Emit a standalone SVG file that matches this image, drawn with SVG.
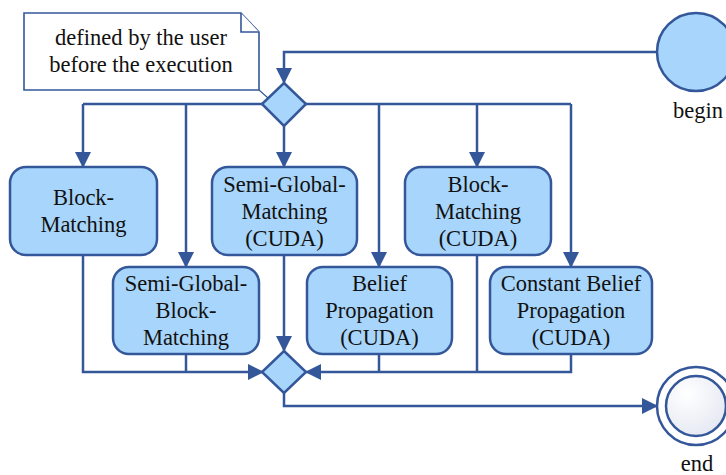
<svg xmlns="http://www.w3.org/2000/svg" width="726" height="475" viewBox="0 0 726 475">
  <style>
    .box { fill: #a8d5fb; stroke: #34579a; stroke-width: 2.5; }
    .line { fill: none; stroke: #34579a; stroke-width: 2.5; }
    .note { fill: #ffffff; stroke: #34579a; stroke-width: 1.6; }
    text { font-family: 'Liberation Serif', 'Times New Roman', serif; font-size: 22.5px; fill: #111111; text-anchor: middle; }
  </style>
  <defs>
    <marker id="arrow" viewBox="0 0 16 16" refX="15" refY="8" markerWidth="16" markerHeight="16" markerUnits="userSpaceOnUse" orient="auto">
      <path d="M0,0 L16,8 L0,16 Z" fill="#34579a"/>
    </marker>
    <radialGradient id="endFill" cx="0.35" cy="0.3" r="0.8">
      <stop offset="0" stop-color="#ffffff"/>
      <stop offset="1" stop-color="#e3e7f1"/>
    </radialGradient>
  </defs>

  <!-- connectors -->
  <g id="connectors">
    <!-- begin to split -->
    <path class="line" d="M657,52 H284 V83" marker-end="url(#arrow)"/>
    <!-- split fan-out bar -->
    <path class="line" d="M83,104 H571"/>
    <path class="line" d="M83,104 V167" marker-end="url(#arrow)"/>
    <path class="line" d="M186,104 V267" marker-end="url(#arrow)"/>
    <path class="line" d="M284,126 V167" marker-end="url(#arrow)"/>
    <path class="line" d="M379,104 V267" marker-end="url(#arrow)"/>
    <path class="line" d="M477,104 V167" marker-end="url(#arrow)"/>
    <path class="line" d="M571,104 V267" marker-end="url(#arrow)"/>
    <!-- merge -->
    <path class="line" d="M83,255 V372 H263" marker-end="url(#arrow)"/>
    <path class="line" d="M186,354 V372"/>
    <path class="line" d="M284,255 V351" marker-end="url(#arrow)"/>
    <path class="line" d="M571,354 V372 H306" marker-end="url(#arrow)"/>
    <path class="line" d="M379,354 V372"/>
    <path class="line" d="M477,255 V372"/>
    <!-- merge to end -->
    <path class="line" d="M284,393 V406 H657" marker-end="url(#arrow)"/>
    <!-- note anchor -->
    <path d="M259,90 L268,98" fill="none" stroke="#34579a" stroke-width="1.2"/>
  </g>

  <g id="note">
    <path class="note" d="M24,13 H241 L259,32 V90 H24 Z"/>
    <path class="note" d="M241,13 V32 H259"/>
    <text x="141" y="45">defined by the user</text>
    <text x="141" y="72">before the execution</text>
  </g>

  <g id="begin">
    <circle class="box" cx="696" cy="52" r="39"/>
    <text x="698" y="118">begin</text>
  </g>

  <g id="split">
    <path class="box" d="M284,83 L306,104 L284,126 L262,104 Z"/>
  </g>

  <g id="block-matching">
    <rect class="box" x="10" y="167" width="147" height="88" rx="16"/>
    <text x="83.5" y="205">Block-</text>
    <text x="83.5" y="232">Matching</text>
  </g>

  <g id="sgm-cuda">
    <rect class="box" x="212" y="167" width="145" height="88" rx="16"/>
    <text x="284.5" y="192">Semi-Global-</text>
    <text x="284.5" y="219">Matching</text>
    <text x="284.5" y="246">(CUDA)</text>
  </g>

  <g id="bm-cuda">
    <rect class="box" x="405" y="167" width="146" height="88" rx="16"/>
    <text x="478" y="192">Block-</text>
    <text x="478" y="219">Matching</text>
    <text x="478" y="246">(CUDA)</text>
  </g>

  <g id="sgbm">
    <rect class="box" x="113" y="267" width="146" height="87" rx="16"/>
    <text x="186" y="291">Semi-Global-</text>
    <text x="186" y="318">Block-</text>
    <text x="186" y="345">Matching</text>
  </g>

  <g id="bp-cuda">
    <rect class="box" x="307" y="267" width="145" height="87" rx="16"/>
    <text x="379.5" y="291">Belief</text>
    <text x="379.5" y="318">Propagation</text>
    <text x="379.5" y="345">(CUDA)</text>
  </g>

  <g id="cbp-cuda">
    <rect class="box" x="490" y="267" width="162" height="87" rx="16"/>
    <text x="571" y="291">Constant Belief</text>
    <text x="571" y="318">Propagation</text>
    <text x="571" y="345">(CUDA)</text>
  </g>

  <g id="merge">
    <path class="box" d="M284,351 L306,372 L284,393 L262,372 Z"/>
  </g>

  <g id="end">
    <circle cx="696" cy="406" r="39" fill="#ffffff" stroke="#34579a" stroke-width="2.5"/>
    <circle cx="696" cy="406" r="30" fill="url(#endFill)" stroke="#34579a" stroke-width="2.5"/>
    <text x="697" y="471">end</text>
  </g>
</svg>
